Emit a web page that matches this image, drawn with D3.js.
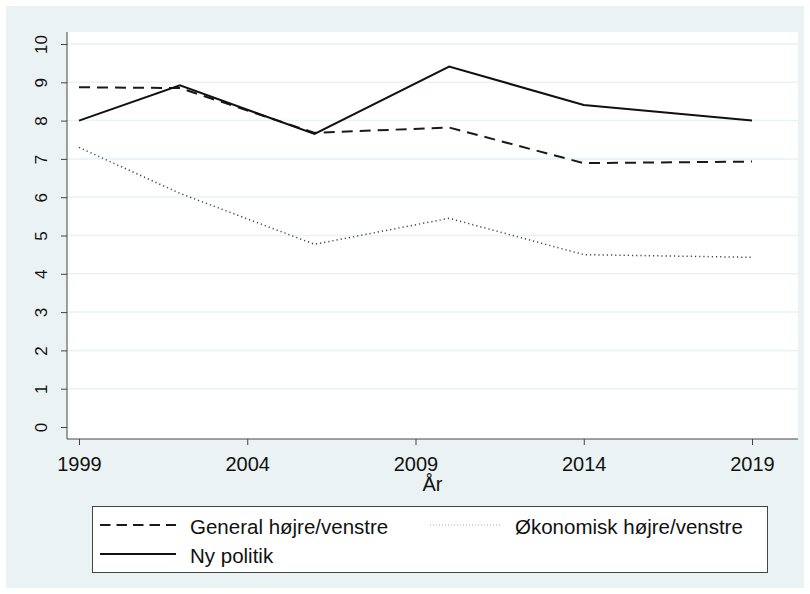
<!DOCTYPE html>
<html>
<head>
<meta charset="utf-8">
<script src="https://cdn.jsdelivr.net/npm/d3@7"></script>
<style>
  body { margin: 0; background: #fff; }
  text { font-family: "Liberation Sans", Arial, sans-serif; fill: #111; }
</style>
</head>
<body>
<script>
// data
var years = [1999, 2002, 2006, 2010, 2014, 2019];
var general = [8.87, 8.85, 7.68, 7.82, 6.89, 6.93];
var okonomisk = [7.30, 6.10, 4.77, 5.45, 4.50, 4.43];
var nyPolitik = [8.00, 8.92, 7.65, 9.41, 8.41, 8.00];
var xTicks = [1999, 2004, 2009, 2014, 2019];
var yTicks = [0, 1, 2, 3, 4, 5, 6, 7, 8, 9, 10];

var W = 810, H = 594;
var plot = {left: 67, top: 32, right: 798, bottom: 439};

var svg = d3.select("body").append("svg")
    .attr("width", W)
    .attr("height", H);

// outer background
svg.append("rect")
    .attr("x", 6).attr("y", 6)
    .attr("width", W - 12).attr("height", H - 12)
    .attr("fill", "#eaf2f3");

// plot region
svg.append("rect")
    .attr("x", plot.left).attr("y", plot.top)
    .attr("width", plot.right - plot.left).attr("height", plot.bottom - plot.top)
    .attr("fill", "#fff");

var x = d3.scaleLinear().domain([1999, 2019]).range([79, 752]);
var y = d3.scaleLinear().domain([0, 10]).range([427, 44]);

// grid
svg.selectAll(".grid")
    .data(yTicks.filter(function(d) { return d > 0; }))
  .enter().append("line")
    .attr("x1", plot.left).attr("x2", plot.right)
    .attr("y1", function(d) { return y(d); })
    .attr("y2", function(d) { return y(d); })
    .attr("stroke", "#eaf2f3")
    .attr("stroke-width", 1.5);

// y axis
var yAxis = svg.append("g")
    .attr("transform", "translate(" + plot.left + ",0)")
    .call(d3.axisLeft(y).tickValues(yTicks).tickSize(6).tickPadding(0).tickFormat(d3.format("d")));
yAxis.select(".domain").attr("d", "M0," + plot.top + "V" + plot.bottom).attr("stroke", "#444");
yAxis.selectAll(".tick line").attr("stroke", "#444");
yAxis.selectAll(".tick text")
    .attr("x", 0).attr("y", 0).attr("dy", 0)
    .attr("text-anchor", "middle")
    .attr("transform", "translate(-20,0) rotate(-90)")
    .style("font-size", "17px");

// x axis
var xAxis = svg.append("g")
    .attr("transform", "translate(0," + plot.bottom + ")")
    .call(d3.axisBottom(x).tickValues(xTicks).tickSize(6).tickPadding(8).tickFormat(d3.format("d")));
xAxis.select(".domain").attr("d", "M" + plot.left + ",0H" + plot.right).attr("stroke", "#444");
xAxis.selectAll(".tick line").attr("stroke", "#444");
xAxis.selectAll(".tick text")
    .attr("dy", 0).attr("y", 32)
    .style("font-size", "20px");

svg.append("text")
    .attr("x", (plot.left + plot.right) / 2)
    .attr("y", 491)
    .attr("text-anchor", "middle")
    .style("font-size", "20px")
    .text("År");

// series
var series = [
  {name: "General højre/venstre", values: general, dash: "11,7", key: "10.5,6", width: 2, color: "#1a1a1a"},
  {name: "Økonomisk højre/venstre", values: okonomisk, dash: "1.2,3", key: "1,2", width: 1.5, color: "#444"},
  {name: "Ny politik", values: nyPolitik, dash: null, key: null, width: 2, color: "#111"}
];

var line = d3.line()
    .x(function(d) { return x(d.year); })
    .y(function(d) { return y(d.v); });

series.forEach(function(s) {
  var pts = years.map(function(yr, i) { return {year: yr, v: s.values[i]}; });
  svg.append("path")
      .datum(pts)
      .attr("d", line)
      .attr("fill", "none")
      .attr("stroke", s.color)
      .attr("stroke-width", s.width)
      .attr("stroke-dasharray", s.dash);
});

// legend
var lg = svg.append("g");
lg.append("rect")
    .attr("x", 92.5).attr("y", 506.5)
    .attr("width", 675).attr("height", 66)
    .attr("fill", "#fff")
    .attr("stroke", "#444");

var legendPos = [
  {s: series[0], x: 100, kw: 76, tx: 190, y: 525},
  {s: series[1], x: 430, kw: 70, tx: 515, y: 525},
  {s: series[2], x: 100, kw: 76, tx: 190, y: 554}
];
legendPos.forEach(function(p) {
  lg.append("line")
      .attr("x1", p.x).attr("x2", p.x + p.kw)
      .attr("y1", p.y).attr("y2", p.y)
      .attr("stroke", p.s.color)
      .attr("stroke-width", p.s.key === "1,2" ? 1.2 : 1.8)
      .attr("stroke-dasharray", p.s.key)
      .attr("stroke-opacity", p.s.key === "1,2" ? 0.45 : 1);
  lg.append("text")
      .attr("x", p.tx)
      .attr("y", p.y + 9)
      .style("font-size", "20.5px")
      .text(p.s.name);
});
</script>
</body>
</html>
